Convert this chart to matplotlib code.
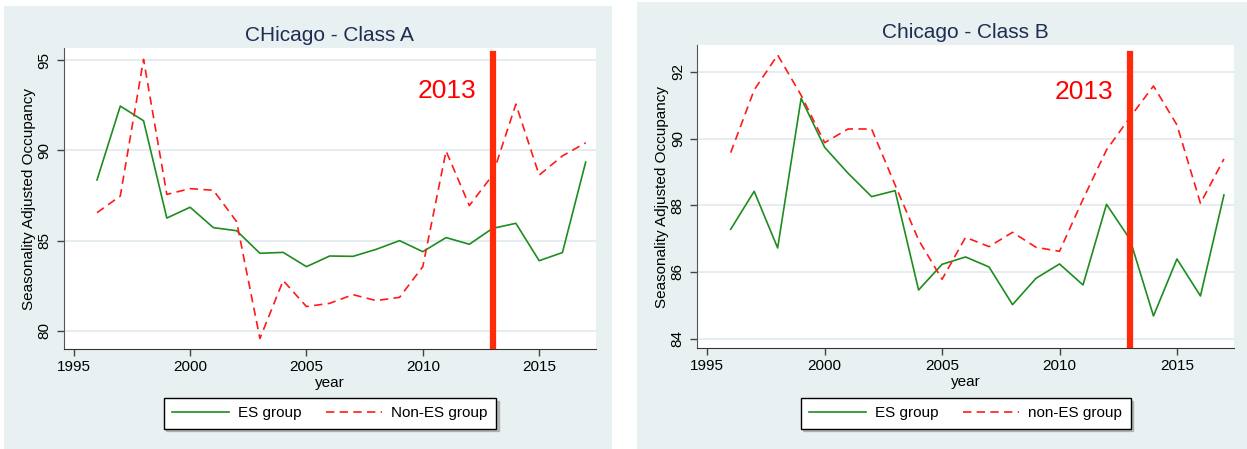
import numpy as np
import matplotlib.pyplot as plt
from matplotlib.patches import Rectangle

plt.rcParams['font.family'] = ['Liberation Sans', 'DejaVu Sans']

years = list(range(1996, 2018))

# Class A seasonality adjusted occupancy
es_a = [88.36, 92.45, 91.64, 86.25, 86.85, 85.72, 85.55, 84.30, 84.35, 83.56, 84.15,
        84.13, 84.52, 85.00, 84.39, 85.17, 84.80, 85.68, 85.96, 83.89, 84.34, 89.35]
non_es_a = [86.55, 87.47, 95.04, 87.56, 87.88, 87.79, 86.05, 79.58, 82.79, 81.35, 81.53,
            82.01, 81.68, 81.86, 83.56, 89.96, 86.94, 88.63, 92.56, 88.63, 89.69, 90.42]

# Class B seasonality adjusted occupancy
es_b = [87.28, 88.42, 86.72, 91.21, 89.74, 88.96, 88.26, 88.44, 85.46, 86.23, 86.45,
        86.15, 85.02, 85.81, 86.24, 85.61, 88.03, 86.98, 84.68, 86.39, 85.28, 88.31]
non_es_b = [89.58, 91.46, 92.51, 91.30, 89.88, 90.29, 90.29, 88.61, 86.96, 85.78, 87.04,
            86.76, 87.19, 86.74, 86.62, 88.18, 89.66, 90.64, 91.58, 90.41, 88.06, 89.39]

event_year = 2013
event_label = "2013"

panel_bg = '#e8f0f2'
title_col = '#1e2d52'
green = '#1e8c1e'
red = '#ff1a1a'
bar_col = '#ff2a0a'

fig = plt.figure(figsize=(12.47, 4.49), dpi=100)
fig.add_artist(Rectangle((0.0032, 0.0), 0.4873, 0.9866, transform=fig.transFigure,
                         facecolor=panel_bg, edgecolor='none', zorder=-5))
fig.add_artist(Rectangle((0.5108, 0.0), 0.4892, 0.9955, transform=fig.transFigure,
                         facecolor=panel_bg, edgecolor='none', zorder=-5))

panels = [
    dict(rect=[0.0513, 0.2227, 0.4264, 0.6697], title="CHicago - Class A",
         es=es_a, non=non_es_a, non_name="Non-ES group",
         ylim=(79.0, 95.65), yticks=[80, 85, 90, 95], vspan=(0.007, 0.981),
         txt=(2011.04, 93.28), leg_x=329.9 / 1247),
    dict(rect=[0.5592, 0.2243, 0.4304, 0.6755], title="Chicago - Class B",
         es=es_b, non=non_es_b, non_name="non-ES group",
         ylim=(83.71, 92.81), yticks=[84, 86, 88, 90, 92], vspan=(0.004, 0.970),
         txt=(2011.03, 91.41), leg_x=965.7 / 1247),
]

for p in panels:
    ax = fig.add_axes(p['rect'])
    ax.set_facecolor('white')
    l1, = ax.plot(years, p['es'], color=green, lw=1.2, label="ES group")
    l2, = ax.plot(years, p['non'], color=red, lw=1.2, dashes=(5, 3.2), label=p['non_name'])
    ax.axvline(event_year, ymin=p['vspan'][0], ymax=p['vspan'][1], color=bar_col, lw=4.5, zorder=4)
    ax.text(p['txt'][0], p['txt'][1], event_label, color='red', fontsize=19,
            ha='center', va='center')

    ax.set_xlim(1994.58, 2017.43)
    ax.set_ylim(*p['ylim'])
    ax.set_xticks([1995, 2000, 2005, 2010, 2015])
    ax.set_yticks(p['yticks'])
    ax.grid(axis='y', color='#e3ecef', lw=1.3)
    ax.set_axisbelow(True)

    for s in ['top', 'right']:
        ax.spines[s].set_visible(False)
    ax.spines['left'].set_color('#555555')
    ax.spines['bottom'].set_color('#333333')
    ax.tick_params(axis='both', length=5, width=1, color='#444444', labelsize=11, pad=3)
    ax.tick_params(axis='y', labelrotation=90, pad=4)
    for t in ax.get_yticklabels():
        t.set_va('center')

    ax.set_title(p['title'], fontsize=15, color=title_col, pad=5)
    ax.set_xlabel("year", fontsize=11, labelpad=1)
    ax.set_ylabel("Seasonality Adjusted Occupancy", fontsize=11, labelpad=1)

    fig.legend(handles=[l1, l2], loc='center', bbox_to_anchor=(p['leg_x'], 0.0795),
               ncol=2, fontsize=11, frameon=True, fancybox=False, framealpha=1,
               edgecolor='black', handlelength=3.7, handletextpad=0.6,
               columnspacing=1.6, borderpad=0.55, shadow={'color': '0.55'})

fig.savefig("out.png", dpi=100)
